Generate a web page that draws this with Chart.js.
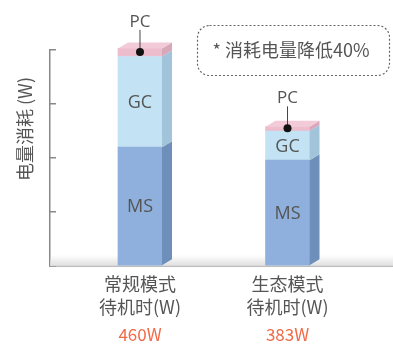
<!DOCTYPE html>
<html><head><meta charset="utf-8">
<script src="https://cdn.jsdelivr.net/npm/chart.js@4.4.0/dist/chart.umd.min.js"></script>
<style>html,body{margin:0;padding:0;background:#fff;}#wrap{width:393px;height:346px;}</style>
</head><body><div id="wrap"><canvas id="c" width="393" height="346"></canvas></div>
<script>
// ---- data ----
const categories = [['常规模式', '待机时(W)'], ['生态模式', '待机时(W)']];
const totals = ['460W', '383W'];
const segmentNames = ['MS', 'GC', 'PC'];
const msValues = [220, 196];
const gcValues = [168, 54];
const pcValues = [15, 8];
const yTicks = [0, 100, 200, 300, 400];
const yTitle = '电量消耗 (W)';
const note = '* 消耗电量降低40%';

// ---- styles ----
const CJK = "'Noto Sans CJK SC', 'Open Sans', sans-serif";
const LAT = "'Open Sans', 'Noto Sans', sans-serif";
const TEXT = '#555555';
const faceColors = ['#8fafdc', '#c3e3f5', '#edbdce'];
const sideColors = ['#6f8fbb', '#a2c4da', '#d7a7ba'];
const topColor = '#f2cad8';
const DX = 10, DY = 6;

const seriesValues = [msValues, gcValues, pcValues];

const threeD = {
  id: 'threeD',
  beforeDatasetsDraw(chart) {
    const {ctx, chartArea: a} = chart;
    const g = ctx.createLinearGradient(0, a.bottom - 11, 0, a.bottom);
    g.addColorStop(0, 'rgba(225,225,225,0)');
    g.addColorStop(1, 'rgba(222,222,222,1)');
    ctx.save();
    ctx.fillStyle = g;
    ctx.fillRect(a.left, a.bottom - 11, a.right - a.left, 11);
    ctx.restore();
  },
  afterDatasetsDraw(chart) {
    const {ctx} = chart;
    const n = chart.data.datasets.length;
    ctx.save();
    chart.data.datasets.forEach((ds, i) => {
      const meta = chart.getDatasetMeta(i);
      meta.data.forEach((el) => {
        const {x, y, base, width} = el.getProps(['x', 'y', 'base', 'width'], true);
        const l = x - width / 2, r = x + width / 2;
        ctx.fillStyle = sideColors[i];
        ctx.beginPath();
        ctx.moveTo(r, y); ctx.lineTo(r + DX, y - DY); ctx.lineTo(r + DX, base - DY); ctx.lineTo(r, base);
        ctx.closePath(); ctx.fill();
        if (i === n - 1) {
          ctx.fillStyle = topColor;
          ctx.beginPath();
          ctx.moveTo(l, y); ctx.lineTo(l + DX, y - DY); ctx.lineTo(r + DX, y - DY); ctx.lineTo(r, y);
          ctx.closePath(); ctx.fill();
        }
      });
    });
    // segment labels
    ctx.fillStyle = TEXT;
    ctx.textAlign = 'center';
    ctx.textBaseline = 'middle';
    ctx.font = '18px ' + LAT;
    [0, 1].forEach(i => {
      chart.getDatasetMeta(i).data.forEach(el => {
        const {x, y, base} = el.getProps(['x', 'y', 'base'], true);
        ctx.fillText(segmentNames[i], x, (y + base) / 2 + 1);
      });
    });
    // PC callouts
    chart.getDatasetMeta(2).data.forEach(el => {
      const {x, y, base} = el.getProps(['x', 'y', 'base'], true);
      const dy = (y + base) / 2 - 0.5;
      ctx.strokeStyle = '#444'; ctx.lineWidth = 1;
      ctx.beginPath(); ctx.moveTo(x, dy - 22); ctx.lineTo(x, dy); ctx.stroke();
      ctx.fillStyle = '#111';
      ctx.beginPath(); ctx.arc(x, dy, 4, 0, Math.PI * 2); ctx.fill();
      ctx.fillStyle = TEXT;
      ctx.font = '17px ' + LAT;
      ctx.fillText(segmentNames[2], x, dy - 30);
    });
    ctx.restore();
  },
  afterDraw(chart) {
    const {ctx, scales: {x: xs}} = chart;
    ctx.save();
    ctx.textAlign = 'center';
    ctx.textBaseline = 'middle';
    ctx.fillStyle = '#f06a48';
    ctx.font = '17px ' + CJK;
    totals.forEach((t, j) => ctx.fillText(t, xs.getPixelForValue(j + 1), xs.top + 69));
    // note box
    ctx.strokeStyle = '#666'; ctx.lineWidth = 1.2; ctx.setLineDash([2, 2]);
    ctx.beginPath(); ctx.roundRect(197.5, 25.5, 192, 50, 12); ctx.stroke();
    ctx.setLineDash([]);
    ctx.fillStyle = TEXT;
    ctx.font = '18px ' + CJK;
    ctx.fillText(note, 291, 50);
    ctx.restore();
  }
};

new Chart(document.getElementById('c'), {
  type: 'bar',
  data: {
    datasets: seriesValues.map((vals, i) => ({
      label: segmentNames[i],
      data: vals.map((v, j) => ({x: j + 1, y: v})),
      backgroundColor: faceColors[i],
      borderWidth: 0,
      barThickness: 44,
      clip: false
    }))
  },
  options: {
    responsive: false,
    animation: false,
    devicePixelRatio: 1,
    layout: {padding: {top: 50, left: 0, right: 0, bottom: 0}},
    plugins: {legend: {display: false}, tooltip: {enabled: false}},
    scales: {
      x: {
        type: 'linear', min: 0.39, max: 2.715, stacked: true, offset: false,
        afterBuildTicks: s => { s.ticks = categories.map((c, i) => ({value: i + 1})); },
        afterFit: s => { s.height = 80; },
        ticks: {
          callback: (v, i) => categories[i],
          color: TEXT, autoSkip: false, maxRotation: 0, padding: 6,
          font: {family: CJK, size: 18, lineHeight: 1.3}
        },
        grid: {display: false, drawTicks: false},
        border: {display: true, color: '#7a7a7a', width: 1.5}
      },
      y: {
        min: 0, max: 400, stacked: true,
        afterBuildTicks: s => { s.ticks = yTicks.map(v => ({value: v})); },
        afterFit: s => { s.width = 50; },
        ticks: {display: false},
        grid: {drawOnChartArea: false, drawTicks: true, tickLength: -6, color: '#888', lineWidth: 1.5},
        border: {display: true, color: '#888', width: 1.5},
        title: {
          display: true, text: yTitle + '\u3000\u2002', align: 'end', color: TEXT,
          font: {family: CJK, size: 18}, padding: {top: 14, bottom: 0}
        }
      }
    }
  },
  plugins: [threeD]
});
</script>
</body></html>
